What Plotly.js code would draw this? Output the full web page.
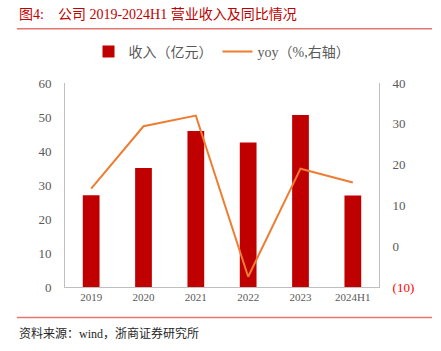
<!DOCTYPE html>
<html>
<head>
<meta charset="utf-8">
<script src="https://cdn.plot.ly/plotly-3.0.1.min.js"></script>
<style>html,body{margin:0;padding:0;background:#fff;}#chart{width:441px;height:351px;}</style>
</head>
<body>
<div id="chart"></div>
<script>
const categories = ["2019", "2020", "2021", "2022", "2023", "2024H1"];
const revenue = [27.0, 35.0, 45.9, 42.5, 50.6, 26.9];
const yoy = [14.1, 29.4, 32.0, -7.5, 19.0, 15.6];
const leftTicks = [0, 10, 20, 30, 40, 50, 60];
const rightTicks = [-10, 0, 10, 20, 30, 40];
const rightTickText = ['<span style="color:#FF0000">(10)</span>', "0", "10", "20", "30", "40"];

const serif = "Liberation Serif, Noto Sans CJK SC, serif";
const gray = "#595959";

const traces = [
  {
    type: "bar", x: categories, y: revenue, name: "收入（亿元）",
    marker: {color: "#C00000"}, yaxis: "y"
  },
  {
    type: "scatter", mode: "lines", x: categories, y: yoy, name: "yoy（%,右轴）",
    line: {color: "#ED7D31", width: 2}, yaxis: "y2"
  }
];

const layout = {
  width: 441, height: 351,
  margin: {l: 65, r: 62, t: 83, b: 64},
  paper_bgcolor: "#fff", plot_bgcolor: "#fff",
  bargap: 0.68,
  showlegend: true,
  legend: {
    orientation: "h", x: 0.5, xanchor: "center", y: 1.152, yanchor: "middle",
    font: {family: serif, size: 14, color: gray},
    itemwidth: 30, tracegroupgap: 0
  },
  xaxis: {
    type: "category", range: [-0.5, 5.5],
    showline: true, linecolor: "#BFBFBF", linewidth: 1,
    showgrid: false, ticks: "", zeroline: false,
    tickfont: {family: serif, size: 11, color: gray}
  },
  yaxis: {
    range: [0, 60], tickvals: leftTicks,
    showline: true, linecolor: "#BFBFBF", linewidth: 1,
    showgrid: false, zeroline: false, ticks: "",
    ticklabelstandoff: 10,
    tickfont: {family: serif, size: 13, color: gray}
  },
  yaxis2: {
    range: [-10, 40], overlaying: "y", side: "right",
    tickvals: rightTicks, ticktext: rightTickText,
    showline: true, linecolor: "#BFBFBF", linewidth: 1,
    showgrid: false, zeroline: false, ticks: "",
    ticklabelstandoff: 10,
    tickfont: {family: serif, size: 13, color: gray}
  },
  shapes: [
    {type: "line", xref: "paper", yref: "paper", x0: -0.153, x1: 1.169, y0: 1.266, y1: 1.266,
     line: {color: "#E87373", width: 1.5}},
    {type: "line", xref: "paper", yref: "paper", x0: -0.153, x1: 1.169, y0: -0.15, y1: -0.15,
     line: {color: "#E87373", width: 1.5}}
  ],
  annotations: [
    {text: "图4:&nbsp;&nbsp;&nbsp;&nbsp;公司 2019-2024H1 营业收入及同比情况", xref: "paper", yref: "paper",
     x: -0.153, xanchor: "left", y: 1.338, yanchor: "middle", showarrow: false,
     font: {family: serif, size: 14, color: "#C00000"}},
    {text: "资料来源：wind，浙商证券研究所", xref: "paper", yref: "paper",
     x: -0.153, xanchor: "left", y: -0.227, yanchor: "middle", showarrow: false,
     font: {family: serif, size: 12, color: "#262626"}}
  ]
};

Plotly.newPlot("chart", traces, layout, {displayModeBar: false, staticPlot: true});
</script>
</body>
</html>
